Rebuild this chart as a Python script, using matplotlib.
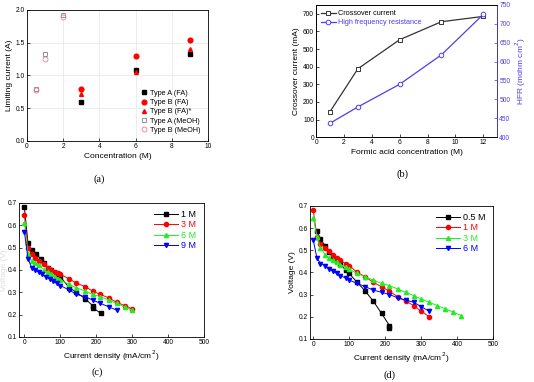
import matplotlib
matplotlib.use("Agg")
import matplotlib.pyplot as plt

plt.rcParams['font.family'] = ['Liberation Sans', 'DejaVu Sans']
plt.rcParams['xtick.direction'] = 'in'
plt.rcParams['ytick.direction'] = 'in'

# (a) limiting current
conc_fa = [3, 6, 9]
typeA_fa = [0.60, 1.08, 1.33]
typeB_fa = [0.80, 1.29, 1.54]
typeB_fa_star = [0.71, 1.05, 1.40]
conc_meoh = [0.5, 1, 2]
typeA_meoh = [0.79, 1.33, 1.93]
typeB_meoh = [0.78, 1.25, 1.89]

# (b) crossover and HFR
fa_conc = [1, 3, 6, 9, 12]
crossover = [145, 388, 553, 655, 685]
hfr = [437, 480, 540, 618, 725]

# (c) polarization, various concentrations
c_1M_x = [0, 10, 20, 33, 45, 55, 65, 75, 90, 100, 125, 145, 170, 190, 192, 213]
c_1M_y = [0.68, 0.52, 0.49, 0.47, 0.45, 0.43, 0.41, 0.40, 0.38, 0.37, 0.32, 0.30, 0.27, 0.24, 0.23, 0.205]
c_x = [0, 10, 20, 30, 40, 55, 65, 75, 85, 95, 100, 125, 145, 170, 190, 212, 235, 257, 280, 300]
c_3M_y = [0.645, 0.50, 0.47, 0.455, 0.44, 0.425, 0.41, 0.40, 0.39, 0.385, 0.38, 0.36, 0.34, 0.325, 0.305,
          0.29, 0.275, 0.255, 0.24, 0.225]
c_6M_y = [0.61, 0.47, 0.44, 0.43, 0.42, 0.40, 0.39, 0.38, 0.37, 0.36, 0.355, 0.335, 0.32, 0.305, 0.29,
          0.28, 0.265, 0.25, 0.235, 0.22]
c_9M_x = [0, 10, 20, 30, 40, 50, 60, 70, 80, 90, 100, 125, 145, 170, 190, 212, 235, 257]
c_9M_y = [0.57, 0.45, 0.41, 0.40, 0.39, 0.38, 0.37, 0.36, 0.35, 0.34, 0.33, 0.31, 0.29, 0.28, 0.265,
          0.25, 0.235, 0.22]

# (d) polarization, second set
d_05M_x = [10, 20, 33, 45, 55, 65, 75, 90, 100, 122, 145, 167, 190, 212, 212]
d_05M_y = [0.585, 0.55, 0.52, 0.49, 0.47, 0.45, 0.44, 0.41, 0.395, 0.355, 0.315, 0.27, 0.215, 0.16, 0.15]
d_x = [0, 10, 20, 33, 45, 55, 65, 75, 90, 100, 122, 145, 167, 190, 212, 235, 257, 280, 300, 323]
d_1M_y = [0.68, 0.56, 0.53, 0.51, 0.495, 0.48, 0.465, 0.455, 0.44, 0.43, 0.40, 0.38, 0.355, 0.335,
          0.315, 0.29, 0.27, 0.25, 0.225, 0.20]
d_6M_y = [0.545, 0.465, 0.44, 0.43, 0.415, 0.405, 0.395, 0.385, 0.375, 0.365, 0.35, 0.335, 0.32, 0.31,
          0.30, 0.285, 0.275, 0.265, 0.245, 0.225]
d_3M_x = d_x + [345, 368, 390, 412]
d_3M_y = [0.645, 0.56, 0.51, 0.48, 0.465, 0.455, 0.445, 0.435, 0.425, 0.415, 0.395, 0.38, 0.365, 0.35,
          0.34, 0.325, 0.31, 0.295, 0.28, 0.265, 0.25, 0.235, 0.22, 0.205]

fig = plt.figure(figsize=(5.34, 3.82), dpi=100)
tick_fs = 4.8
lab_fs = 6

def style(ax):
    ax.tick_params(labelsize=tick_fs, length=2, width=0.5, pad=1.5)
    for s in ax.spines.values():
        s.set_linewidth(0.6)

# ---- (a)
ax = fig.add_axes([0.0506, 0.631, 0.339, 0.343])
ax.plot(conc_fa, typeA_fa, 's', color='black', ms=3.2, label='Type A (FA)')
ax.plot(conc_fa, typeB_fa, 'o', color='red', ms=3.4, label='Type B (FA)')
ax.plot(conc_fa, typeB_fa_star, '^', color='red', ms=2.8, label='Type B (FA)*')
ax.plot(conc_meoh, typeA_meoh, 's', mfc='none', mec='gray', mew=0.6, ms=3.4, label='Type A (MeOH)')
ax.plot(conc_meoh, typeB_meoh, 'o', mfc='none', mec='#f07b8a', mew=0.6, ms=3.6, label='Type B (MeOH)')
ax.set_xlim(0, 10)
ax.set_ylim(0, 2.0)
ax.set_xticks([0, 2, 4, 6, 8, 10])
ax.set_yticks([0.0, 0.5, 1.0, 1.5, 2.0])
ax.grid(color='#e6e6e6', lw=0.5)
ax.set_xlabel('Concentration (M)', fontsize=lab_fs, labelpad=2)
ax.set_ylabel('Limiting current (A)', fontsize=lab_fs, labelpad=2)
ax.legend(loc='lower right', fontsize=5.2, frameon=False, handletextpad=0.3,
          labelspacing=0.3, handlelength=1.2, borderaxespad=0.6)
style(ax)
fig.text(0.185, 0.523, '(a)', fontsize=7.5, family='Liberation Serif', ha='center')

# ---- (b)
ax = fig.add_axes([0.592, 0.641, 0.339, 0.346])
ax.plot(fa_conc, crossover, 's-', color='#333333', mfc='white', mec='#333333', ms=3.3, lw=0.9,
        mew=0.7, label='Crossover current')
ax.plot([], [], 'o-', color='#4b3ef0', mfc='white', ms=3.3, lw=0.9, mew=0.7,
        label='High frequency resistance')
ax.set_xlim(0, 13)
ax.set_ylim(0, 750)
ax.set_xticks([0, 2, 4, 6, 8, 10, 12])
ax.set_yticks(range(0, 701, 100))
ax.set_xlabel('Formic acid concentration (M)', fontsize=lab_fs, labelpad=2)
ax.set_ylabel('Crossover current (mA)', fontsize=lab_fs, labelpad=2)
ax.legend(loc='upper left', fontsize=5.2, frameon=False, handletextpad=0.3,
          labelspacing=0.3, handlelength=2.0, borderaxespad=0.3)
style(ax)
ax2 = ax.twinx()
ax2.plot(fa_conc, hfr, 'o-', color='#4b3ef0', mfc='white', ms=3.3, lw=0.9, mew=0.7)
ax2.set_ylim(400, 750)
ax2.set_yticks(range(400, 751, 50))
ax2.set_ylabel('HFR (mohm cm$^2$)', fontsize=lab_fs, color='#4b3ef0', labelpad=2)
ax2.tick_params(axis='y', colors='#4b3ef0', labelcolor='#4b3ef0')
style(ax2)
ax2.spines['right'].set_color('#4b3ef0')
legend_texts = ax.get_legend().get_texts()
legend_texts[1].set_color('#4b3ef0')
fig.text(0.753, 0.537, '(b)', fontsize=7.5, family='Liberation Serif', ha='center')

# ---- (c)
ax = fig.add_axes([0.0356, 0.118, 0.346, 0.351])
kw = dict(ms=3.0, lw=0.7)
ax.plot(c_1M_x, c_1M_y, 's-', color='black', label='1 M', **kw)
ax.plot(c_x, c_3M_y, 'o-', color='red', label='3 M', **kw)
ax.plot(c_x, c_6M_y, '^-', color='#22ee22', label='6 M', **kw)
ax.plot(c_9M_x, c_9M_y, 'v-', color='blue', label='9 M', **kw)
ax.set_xlim(-15, 500)
ax.set_ylim(0.1, 0.7)
ax.set_xticks(range(0, 501, 100))
ax.set_xlabel('Current density (mA/cm$^2$)', fontsize=lab_fs, labelpad=2)
ax.set_ylabel('Voltage (V)', fontsize=lab_fs, color='#dddddd', labelpad=0)
leg = ax.legend(loc='upper right', fontsize=6.5, frameon=False, handletextpad=0.4,
                labelspacing=0.15, handlelength=2.6, borderaxespad=0.4)
for t, c in zip(leg.get_texts(), ['black', 'red', '#22ee22', 'blue']):
    t.set_color(c)
style(ax)
fig.text(0.182, 0.018, '(c)', fontsize=7.5, family='Liberation Serif', ha='center')

# ---- (d)
ax = fig.add_axes([0.580, 0.113, 0.343, 0.348])
ax.plot(d_05M_x, d_05M_y, 's-', color='black', label='0.5 M', **kw)
ax.plot(d_x, d_1M_y, 'o-', color='red', label='1 M', **kw)
ax.plot(d_3M_x, d_3M_y, '^-', color='#22ee22', label='3 M', **kw)
ax.plot(d_x, d_6M_y, 'v-', color='blue', label='6 M', **kw)
ax.set_xlim(-10, 500)
ax.set_ylim(0.1, 0.7)
ax.set_xticks(range(0, 501, 100))
ax.set_xlabel('Current density (mA/cm$^2$)', fontsize=lab_fs, labelpad=2)
ax.set_ylabel('Voltage (V)', fontsize=lab_fs, labelpad=2)
leg = ax.legend(loc='upper right', fontsize=6.5, frameon=False, handletextpad=0.4,
                labelspacing=0.15, handlelength=2.6, borderaxespad=0.4)
for t, c in zip(leg.get_texts(), ['black', 'red', '#22ee22', 'blue']):
    t.set_color(c)
style(ax)
fig.text(0.730, 0.012, '(d)', fontsize=7.5, family='Liberation Serif', ha='center')

fig.savefig('out.png', dpi=100)
